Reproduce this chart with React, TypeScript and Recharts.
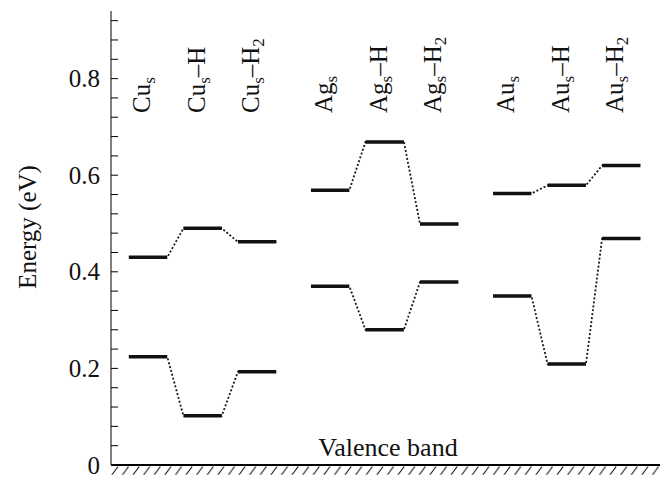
import { LineChart, Line, XAxis, YAxis, ReferenceArea } from 'recharts'

// energy levels (eV) per column: Cu_s, Cu_s-H, Cu_s-H2, Ag_s, ... Au_s-H2
const METALS = ['Cu', 'Ag', 'Au']
const ADSORBATES = ['', 'H', 'H2']
const UPPER_LEVELS = [0.43, 0.49, 0.462, 0.569, 0.669, 0.499, 0.562, 0.579, 0.62]
const LOWER_LEVELS = [0.224, 0.102, 0.193, 0.37, 0.28, 0.379, 0.35, 0.209, 0.469]
const Y_TICKS = [0, 0.04, 0.08, 0.12, 0.16, 0.2, 0.24, 0.28, 0.32, 0.36, 0.4, 0.44, 0.48, 0.52, 0.56, 0.6, 0.64, 0.68, 0.72, 0.76, 0.8, 0.84, 0.88, 0.92]
const Y_LABELS = [0, 0.2, 0.4, 0.6, 0.8]

const FONT = '"Liberation Serif", "Times New Roman", Times, serif'
const GROUP_GAP = 0.34
const HALF_WIDTH = 0.352
const X_DOMAIN = [-0.68, 9.39]

const colX = (i: number) => i + Math.floor(i / 3) * GROUP_GAP
const COL_X = UPPER_LEVELS.map((_, i) => colX(i))

// dotted path through both ends of every level of one group
function connector(levels: number[], g: number) {
  const pts: { x: number; y: number | null }[] = []
  for (let k = 0; k < 3; k++) {
    const i = g * 3 + k
    pts.push({ x: colX(i) - HALF_WIDTH, y: levels[i] }, { x: colX(i) + HALF_WIDTH, y: levels[i] })
  }
  return pts
}

// same points, broken between levels so only the bars are drawn
function bars(levels: number[], g: number) {
  const pts: { x: number; y: number | null }[] = []
  for (let k = 0; k < 3; k++) {
    const i = g * 3 + k
    pts.push({ x: colX(i) - HALF_WIDTH, y: levels[i] }, { x: colX(i) + HALF_WIDTH, y: levels[i] })
    if (k < 2) pts.push({ x: colX(i) + HALF_WIDTH + 0.01, y: null })
  }
  return pts
}

function YTick(props: any) {
  const { x, y, payload } = props
  const v = payload.value
  const labelled = Y_LABELS.some(l => Math.abs(l - v) < 1e-6)
  return (
    <g>
      <line x1={x} x2={x + 7} y1={y} y2={y} stroke="#000" strokeWidth={1} />
      {labelled && (
        <text x={x - 11} y={y} dy={8.5} textAnchor="end" style={{ fontFamily: FONT }} fontSize={25} fill="#111">
          {v === 0 ? '0' : v.toFixed(1)}
        </text>
      )}
    </g>
  )
}

function ColumnLabel(props: any) {
  const { x, index } = props
  const metal = METALS[Math.floor(index / 3)]
  const ads = ADSORBATES[index % 3]
  const bx = x + 2
  const by = 113
  return (
    <text x={bx} y={by} transform={`rotate(-90, ${bx}, ${by})`} textAnchor="start" style={{ fontFamily: FONT }} fontSize={25} fill="#111">
      {metal}
      <tspan fontSize={17} dy={5}>s</tspan>
      {ads && <tspan dy={-5}>–H</tspan>}
      {ads === 'H2' && <tspan fontSize={17} dy={5}>2</tspan>}
    </text>
  )
}

export default function App() {
  const groups = [0, 1, 2]
  const dotted = { stroke: '#1a1a1a', strokeWidth: 1.8, strokeDasharray: '2 2', dot: false, activeDot: false, isAnimationActive: false } as const
  const solid = { stroke: '#111', strokeWidth: 3.5, dot: false, activeDot: false, isAnimationActive: false } as const
  return (
    <div style={{ position: 'absolute', left: 0, top: 0, background: '#fff', fontFamily: FONT }}>
      <svg width={0} height={0} style={{ position: 'absolute' }}>
        <defs>
          <pattern id="hatch" patternUnits="userSpaceOnUse" x={111} y={466} width={10.6} height={10}>
            <path d="M0,10 L7,0.5" stroke="#000" strokeWidth={1} />
          </pattern>
        </defs>
      </svg>
      <LineChart width={666} height={477} margin={{ top: 10, right: 6, left: 0, bottom: 0 }} style={{ fontFamily: FONT }}>
        <XAxis
          type="number"
          dataKey="x"
          domain={X_DOMAIN}
          allowDataOverflow
          height={12}
          tick={false}
          tickLine={false}
          axisLine={{ stroke: '#000', strokeWidth: 2 }}
          label={{
            content: () => (
              <text x={388} y={456} textAnchor="middle" style={{ fontFamily: FONT }} fontSize={26} fill="#111">
                Valence band
              </text>
            ),
          }}
        />
        <XAxis
          xAxisId="top"
          orientation="top"
          type="number"
          dataKey="x"
          domain={X_DOMAIN}
          allowDataOverflow
          height={1}
          ticks={COL_X}
          interval={0}
          axisLine={false}
          tickLine={false}
          tick={<ColumnLabel />}
        />
        <YAxis
          type="number"
          domain={[0, 0.94]}
          allowDataOverflow
          width={111}
          ticks={Y_TICKS}
          interval={0}
          tickSize={0}
          tickMargin={0}
          tickLine={false}
          axisLine={{ stroke: '#000', strokeWidth: 1 }}
          tick={<YTick />}
          label={{
            content: () => (
              <text x={36} y={227} transform="rotate(-90, 36, 227)" textAnchor="middle" style={{ fontFamily: FONT }} fontSize={25} fill="#111">
                Energy (eV)
              </text>
            ),
          }}
        />
        <ReferenceArea x1={X_DOMAIN[0]} x2={X_DOMAIN[1]} y1={-0.02} y2={0} ifOverflow="visible" fill="url(#hatch)" fillOpacity={1} stroke="none" />
        {groups.map(g => (
          <Line key={`cu${g}`} xAxisId="top" data={connector(UPPER_LEVELS, g)} dataKey="y" {...dotted} />
        ))}
        {groups.map(g => (
          <Line key={`cl${g}`} data={connector(LOWER_LEVELS, g)} dataKey="y" {...dotted} />
        ))}
        {groups.map(g => (
          <Line key={`bu${g}`} data={bars(UPPER_LEVELS, g)} dataKey="y" {...solid} />
        ))}
        {groups.map(g => (
          <Line key={`bl${g}`} data={bars(LOWER_LEVELS, g)} dataKey="y" {...solid} />
        ))}
      </LineChart>
    </div>
  )
}
